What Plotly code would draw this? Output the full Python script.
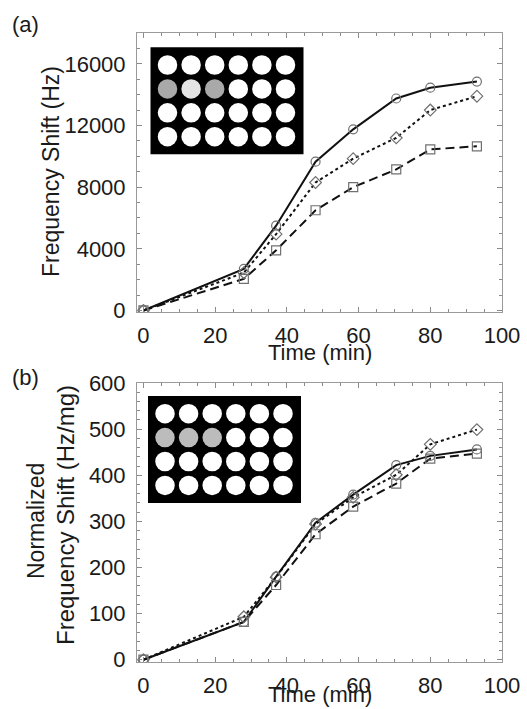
import plotly.graph_objects as go
from plotly.subplots import make_subplots

# ---------------- data ----------------
time_min = [0, 28, 37, 48, 58.5, 70.5, 80, 93]

shift_a_circle = [0, 2700, 5500, 9650, 11750, 13750, 14450, 14850]
shift_a_diamond = [0, 2450, 4950, 8300, 9850, 11200, 13000, 13900]
shift_a_square = [0, 2050, 3900, 6500, 8000, 9150, 10450, 10650]

norm_b_circle = [0, 82, 180, 297, 358, 422, 442, 456]
norm_b_diamond = [0, 93, 179, 294, 352, 401, 467, 499]
norm_b_square = [0, 82, 162, 272, 332, 382, 436, 447]

x_ticks = [0, 20, 40, 60, 80, 100]
x_ticktext = ["0", "20", "40", "60", "80", "100"]
ya_ticks = [0, 4000, 8000, 12000, 16000]
ya_ticktext = ["0", "4000", "8000", "12000", "16000"]
yb_ticks = [0, 100, 200, 300, 400, 500, 600]
yb_ticktext = ["0", "100", "200", "300", "400", "500", "600"]

# well-plate inset colours (row 2, first three wells)
plate_a_row2 = ["#a9a9a9", "#e4e4e4", "#a9a9a9"]
plate_b_row2 = ["#bcbcbc", "#bcbcbc", "#bcbcbc"]

# ---------------- layout geometry ----------------
W, H = 527, 709
L, R, T, B = 137, 25, 33, 47
PW = W - L - R
GAP = 71
PH = (H - T - B - GAP) / 2
TOTAL_H = H - T - B

FONT = "Liberation Sans, Arial, Helvetica, sans-serif"
TXT = "#1a1a1a"

fig = make_subplots(rows=2, cols=1, vertical_spacing=GAP / TOTAL_H)

series = [
    ("circle-open", "solid"),
    ("diamond-open", "dot"),
    ("square-open", "9px,5px"),
]
panel_a = [shift_a_circle, shift_a_diamond, shift_a_square]
panel_b = [norm_b_circle, norm_b_diamond, norm_b_square]

for row, data in ((1, panel_a), (2, panel_b)):
    for (sym, dash), ys in zip(series, data):
        fig.add_trace(go.Scatter(
            x=time_min, y=ys, mode="lines",
            line=dict(color="#111111", width=2, dash=dash),
            showlegend=False, hoverinfo="skip"), row=row, col=1)
    for (sym, dash), ys in zip(series, data):
        fig.add_trace(go.Scatter(
            x=time_min, y=ys, mode="markers",
            marker=dict(symbol=sym, size=9, color="#707070",
                        line=dict(width=1.2, color="#707070")),
            showlegend=False), row=row, col=1)

axis_common = dict(
    showline=True, linecolor="#9a9a9a", linewidth=1, mirror="ticks",
    ticks="inside", ticklen=5, tickcolor="#8a8a8a", tickwidth=1,
    showgrid=False, zeroline=False,
    tickfont=dict(family=FONT, size=22, color=TXT),
)

for row in (1, 2):
    fig.update_xaxes(range=[-1.8, 100], tickvals=x_ticks, ticktext=x_ticktext,
                     minor=dict(ticks="inside", ticklen=3, dtick=5, tick0=0,
                                tickcolor="#8a8a8a", showgrid=False),
                     ticklabelstandoff=4,
                     **axis_common, row=row, col=1)

fig.update_yaxes(range=[-100, 18000], tickvals=ya_ticks, ticktext=ya_ticktext,
                 minor=dict(ticks="inside", ticklen=3, dtick=1000, tick0=0,
                            tickcolor="#8a8a8a", showgrid=False),
                 ticklabelstandoff=6,
                 **axis_common, row=1, col=1)
fig.update_yaxes(range=[-5, 600], tickvals=yb_ticks, ticktext=yb_ticktext,
                 minor=dict(ticks="inside", ticklen=3, dtick=20, tick0=0,
                            tickcolor="#8a8a8a", showgrid=False),
                 ticklabelstandoff=6,
                 **axis_common, row=2, col=1)

# ---------------- inset well plates ----------------
def px_to_dom(px, py, top):
    return (px - L) / PW, 1 - (py - top) / PH

shapes = []
def plate(top, rect_left, rect_top, row2, xref, yref):
    rw, rh = 153, 107
    x0, y1 = px_to_dom(rect_left, rect_top, top)
    x1, y0 = px_to_dom(rect_left + rw, rect_top + rh, top)
    shapes.append(dict(type="rect", xref=xref, yref=yref, x0=x0, x1=x1,
                       y0=y0, y1=y1, fillcolor="black", line=dict(width=0)))
    d = 19.5
    for j in range(4):
        for i in range(6):
            cx = rect_left + 17 + 23.6 * i
            cy = rect_top + 17.7 + 23.9 * j
            col = "white"
            if j == 1 and i < 3:
                col = row2[i]
            a0, b1 = px_to_dom(cx - d / 2, cy - d / 2, top)
            a1, b0 = px_to_dom(cx + d / 2, cy + d / 2, top)
            shapes.append(dict(type="circle", xref=xref, yref=yref,
                               x0=a0, x1=a1, y0=b0, y1=b1,
                               fillcolor=col, line=dict(width=0)))

top_a = T
top_b = T + PH + GAP
plate(top_a, 150.5, 47.3, plate_a_row2, "x domain", "y domain")
plate(top_b, 148.0, 396.0, plate_b_row2, "x2 domain", "y2 domain")

# ---------------- text annotations ----------------
def py_to_paper(py):
    return (H - B - py) / TOTAL_H

def px_to_paper(px):
    return (px - L) / PW

ann = []
f22 = dict(family=FONT, size=22, color=TXT)
f23 = dict(family=FONT, size=23, color=TXT)
ann.append(dict(text="(a)", x=px_to_paper(25), y=py_to_paper(25),
                xref="paper", yref="paper", showarrow=False, font=f22,
                xanchor="center", yanchor="middle"))
ann.append(dict(text="(b)", x=px_to_paper(25), y=py_to_paper(377),
                xref="paper", yref="paper", showarrow=False, font=f22,
                xanchor="center", yanchor="middle"))
ann.append(dict(text="Time (min)", x=0.5, y=py_to_paper(352),
                xref="paper", yref="paper", showarrow=False, font=f22,
                xanchor="center", yanchor="middle"))
ann.append(dict(text="Time (min)", x=0.5, y=py_to_paper(694),
                xref="paper", yref="paper", showarrow=False, font=f22,
                xanchor="center", yanchor="middle"))
ann.append(dict(text="Frequency Shift (Hz)", x=px_to_paper(51),
                y=py_to_paper(172), xref="paper", yref="paper",
                showarrow=False, font=f23,
                textangle=-90, xanchor="center", yanchor="middle"))
ann.append(dict(text="Normalized", x=px_to_paper(36),
                y=py_to_paper(521), xref="paper", yref="paper",
                showarrow=False, font=f23,
                textangle=-90, xanchor="center", yanchor="middle"))
ann.append(dict(text="Frequency Shift (Hz/mg)", x=px_to_paper(65),
                y=py_to_paper(515), xref="paper", yref="paper",
                showarrow=False, font=dict(family=FONT, size=24, color=TXT),
                textangle=-90, xanchor="center", yanchor="middle"))

fig.update_layout(
    width=W, height=H,
    margin=dict(l=L, r=R, t=T, b=B, autoexpand=False),
    paper_bgcolor="white", plot_bgcolor="white",
    shapes=shapes, annotations=ann,
    showlegend=False,
)

fig.write_html("out.html",
               config={"displayModeBar": False},
               post_script="document.body.style.margin='0';"
                           "document.body.style.padding='0';"
                           "document.body.style.overflow='hidden';")
